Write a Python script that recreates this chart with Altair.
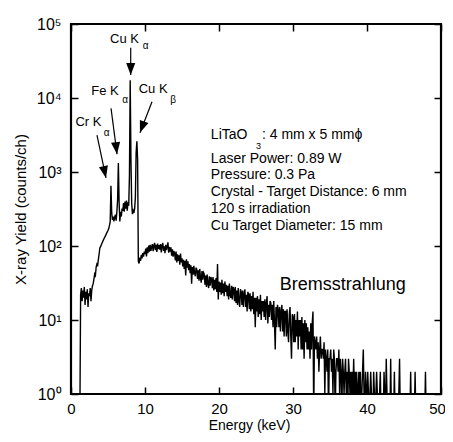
import altair as alt
import pandas as pd

FONT = "Liberation Sans"

# ---- spectrum: counts per channel, channels every 0.1 keV starting at 1.0 keV ----
E_START = 1.0
E_STEP = 0.1
r01 = [0, 0, 0, 22, 27, 18, 25, 20, 28, 16]
r02 = [24, 19, 26, 15, 23, 21, 27, 18, 25, 29]
r03 = [31, 36, 42, 40, 52, 57, 55, 66, 78, 94]
r04 = [98, 104, 110, 116, 122, 128, 134, 140, 148, 155]
r05 = [162, 172, 190, 215, 650, 280, 225, 250, 215, 245]
r06 = [265, 220, 290, 420, 1320, 390, 215, 290, 250, 320]
r07 = [300, 380, 290, 400, 320, 410, 300, 390, 350, 900]
r08 = [17400, 1500, 380, 270, 300, 280, 320, 450, 1800, 2600]
r09 = [1500, 62, 58, 70, 63, 76, 68, 80, 72, 84]
r10 = [78, 92, 72, 96, 80, 101, 84, 104, 86, 98]
r11 = [106, 85, 100, 110, 88, 104, 83, 108, 91, 103]
r12 = [89, 106, 82, 101, 110, 86, 99, 80, 104, 88]
r13 = [98, 112, 81, 97, 84, 96, 74, 90, 72, 86]
r14 = [80, 64, 84, 60, 77, 63, 75, 56, 79, 60]
r15 = [68, 53, 65, 49, 63, 40, 66, 51, 62, 47]
r16 = [57, 43, 55, 31, 52, 41, 54, 43, 39, 51]
r17 = [48, 36, 47, 34, 49, 37, 32, 46, 35, 44]
r18 = [42, 30, 40, 28, 41, 31, 27, 39, 29, 38]
r19 = [36, 27, 38, 25, 35, 26, 37, 24, 57, 19]
r20 = [33, 24, 32, 22, 35, 23, 31, 21, 33, 24]
r21 = [30, 21, 29, 19, 31, 22, 20, 29, 19, 28]
r22 = [26, 18, 28, 17, 25, 16, 27, 18, 15, 26]
r23 = [24, 16, 25, 15, 23, 26, 15, 22, 13, 24]
r24 = [22, 14, 23, 13, 21, 14, 24, 12, 20, 8]
r25 = [20, 13, 21, 11, 19, 12, 22, 10, 18, 13]
r26 = [18, 11, 19, 10, 17, 21, 9, 16, 11, 18]
r27 = [17, 10, 16, 8, 18, 9, 4, 15, 8, 16]
r28 = [14, 8, 15, 7, 13, 16, 7, 14, 6, 13]
r29 = [13, 6, 14, 7, 5, 12, 15, 6, 3, 12]
r30 = [11, 5, 12, 5, 10, 6, 13, 4, 10, 6]
r31 = [10, 4, 11, 4, 9, 3, 10, 5, 9, 4]
r32 = [8, 4, 7, 3, 9, 4, 9, 13, 0, 6]
r33 = [5, 4, 6, 3, 5, 2, 4, 6, 3, 4]
r34 = [4, 3, 5, 1, 4, 3, 2, 4, 0, 3]
r35 = [3, 4, 2, 3, 1, 4, 3, 0, 2, 3]
r36 = [3, 2, 4, 1, 3, 2, 0, 3, 2, 1]
r37 = [2, 3, 1, 2, 0, 3, 2, 1, 2, 0]
r38 = [2, 1, 3, 1, 2, 0, 2, 1, 1, 2]
r39 = [1, 2, 0, 1, 2, 4, 1, 0, 2, 1]
r40 = [1, 2, 1, 0, 1, 2, 1, 1, 0, 2]
r41 = [1, 0, 1, 2, 1, 0, 1, 1, 2, 0]
r42 = [1, 1, 0, 2, 1, 0, 3, 1, 0, 1]
r43 = [1, 0, 3, 0, 1, 1, 0, 2, 0, 1]
r44 = [0, 1, 0, 1, 3, 0, 0, 1, 0, 0]
r45 = [0, 1, 0, 0, 0, 0, 0, 0, 0, 2]
r46 = [0, 0, 0, 0, 0, 2, 0, 0, 0, 0]
r47 = [0, 0, 0, 0, 0, 0, 0, 0, 0, 2]
r48 = [0]

rows = [r01, r02, r03, r04, r05, r06, r07, r08, r09, r10, r11, r12, r13, r14,
        r15, r16, r17, r18, r19, r20, r21, r22, r23, r24, r25, r26, r27, r28,
        r29, r30, r31, r32, r33, r34, r35, r36, r37, r38, r39, r40, r41, r42,
        r43, r44, r45, r46, r47, r48]
counts = [c for row in rows for c in row]
energy = [round(E_START + E_STEP * i, 1) for i in range(len(counts))]
spec = pd.DataFrame({"energy": energy, "counts": counts})

# ---- axis ranges / ticks ----
X_DOMAIN = [0, 50]
Y_DOMAIN = [1, 100000]
x_ticks = [0, 10, 20, 30, 40, 50]
y_ticks = [1, 10, 100, 1000, 10000, 100000]

# ---- peak labels ----
peak_text = ["Cr K", "Fe K", "Cu K", "Cu K"]
peak_E = [2.36, 4.6, 7.23, 11.1]
peak_Y = [4790, 12590, 63100, 13180]
sub_text = ["α", "α", "α", "β"]
sub_E = [4.82, 7.3, 10.1, 13.8]
sub_Y = [3390, 9330, 50100, 9330]

# arrows: tail -> tip
arrow_E0 = [3.51, 5.41, 8.07, 10.95]
arrow_Y0 = [3160, 7240, 47900, 8910]
arrow_E1 = [4.73, 6.22, 8.07, 9.32]
arrow_Y1 = [832, 1740, 20400, 3390]
arrow_angle = [347.5, 353, 0, 20.3]

# ---- conditions text block ----
info_text = ["Laser Power: 0.89 W", "Pressure: 0.3 Pa",
             "Crystal - Target Distance: 6 mm", "120 s irradiation",
             "Cu Target Diameter: 15 mm"]
info_E = [18.9, 18.9, 18.9, 18.9, 18.9]
info_Y = [1500, 910, 537, 316, 186]
lit_text = ["LiTaO", "3", ": 4 mm x 5 mmϕ"]
lit_E = [18.9, 25.0, 25.8]
lit_Y = [3162, 2250, 3162]
lit_size = [14, 9, 14]
brems_text = ["Bremsstrahlung"]
brems_E = [28.2]
brems_Y = [29.5]

xscale = alt.Scale(domain=X_DOMAIN, nice=False, zero=False)
yscale = alt.Scale(type="log", domain=Y_DOMAIN, nice=False)

common_axis = dict(domain=False, grid=False, tickSize=7, offset=-7,
                   tickColor="black", tickWidth=1.5,
                   labelFont=FONT, titleFont=FONT, labelColor="black",
                   titleColor="black", titleFontWeight="normal")

x_bottom = alt.Axis(orient="bottom", values=x_ticks,
                    title="Energy (keV)", labelFontSize=15, labelPadding=7,
                    labelFlush=False, titleFontSize=14, titlePadding=2,
                    labelOffset={"condition": {"test": "datum.value == 50", "value": -4},
                                 "value": 0},
                    titleX=178, **common_axis)
y_left = alt.Axis(orient="left", values=y_ticks,
                  title="X-ray Yield (counts/ch)",
                  labelExpr="'10' + ['⁰','¹','²','³','⁴','⁵'][round(log(datum.value)/LN10)]",
                  labelFontSize=16, labelPadding=10, labelFlush=False,
                  titleFontSize=15, titlePadding=8, **common_axis)
x_top = alt.Axis(orient="top", values=x_ticks, labels=False,
                 title=None, **common_axis)
y_right = alt.Axis(orient="right", values=y_ticks,
                   labels=False, title=None, **common_axis)

line = alt.Chart(spec).transform_calculate(
    plot_counts="max(datum.counts, 0.5)"
).mark_line(color="black", strokeWidth=1.4, clip=True).encode(
    x=alt.X("energy:Q", scale=xscale, axis=x_bottom),
    y=alt.Y("plot_counts:Q", scale=yscale, axis=y_left),
)

# plot frame drawn along the axis domain limits
frame = alt.Chart(pd.DataFrame({"k": [0]})).mark_rect(
    filled=False, stroke="black", strokeWidth=2.2
).encode(
    x=alt.XDatum(X_DOMAIN[0], scale=xscale, axis=None),
    x2=alt.X2Datum(X_DOMAIN[1]),
    y=alt.YDatum(Y_DOMAIN[0], scale=yscale, axis=None),
    y2=alt.Y2Datum(Y_DOMAIN[1]),
)

arrows_df = pd.DataFrame({"e0": arrow_E0, "y0": arrow_Y0, "e1": arrow_E1,
                          "y1": arrow_Y1, "angle": arrow_angle})
arrow_lines = alt.Chart(arrows_df).mark_rule(color="black", strokeWidth=1.2).encode(
    x=alt.X("e0:Q", scale=xscale, axis=x_top),
    y=alt.Y("y0:Q", scale=yscale, axis=y_right),
    x2="e1:Q", y2="y1:Q",
)
arrow_heads = alt.Chart(arrows_df).mark_point(
    shape="M0,0L-0.38,-1L0.38,-1Z", filled=True, color="black", opacity=1,
    size=576, strokeWidth=0,
).encode(
    x=alt.X("e1:Q", scale=xscale, axis=None),
    y=alt.Y("y1:Q", scale=yscale, axis=None),
    angle=alt.Angle("angle:Q", scale=None),
)

def text_layer(df, size, align="center"):
    return alt.Chart(df).mark_text(font=FONT, fontSize=size, align=align,
                                   baseline="middle", color="black").encode(
        x=alt.X("e:Q", scale=xscale, axis=None),
        y=alt.Y("y:Q", scale=yscale, axis=None),
        text="t:N",
    )

peaks = text_layer(pd.DataFrame({"e": peak_E, "y": peak_Y, "t": peak_text}), 13)
subs = text_layer(pd.DataFrame({"e": sub_E, "y": sub_Y, "t": sub_text}), 10)
info = text_layer(pd.DataFrame({"e": info_E, "y": info_Y, "t": info_text}), 14, "left")
lit_df = pd.DataFrame({"e": lit_E, "y": lit_Y, "t": lit_text, "s": lit_size})
lit = alt.Chart(lit_df).mark_text(font=FONT, align="left", baseline="middle",
                                  color="black").encode(
    x=alt.X("e:Q", scale=xscale, axis=None),
    y=alt.Y("y:Q", scale=yscale, axis=None),
    text="t:N",
    size=alt.Size("s:Q", scale=None),
)
brems = text_layer(pd.DataFrame({"e": brems_E, "y": brems_Y, "t": brems_text}), 18, "left")

chart = alt.layer(line, frame, arrow_lines, arrow_heads, peaks, subs, info, lit, brems).resolve_axis(
    x="independent", y="independent"
).properties(
    width=370, height=370, autosize="none", background="white",
    padding={"left": 63, "top": 16, "right": 4, "bottom": 40},
).configure_view(strokeWidth=0)

chart.save("out.html", embed_options={"renderer": "svg", "actions": False})
